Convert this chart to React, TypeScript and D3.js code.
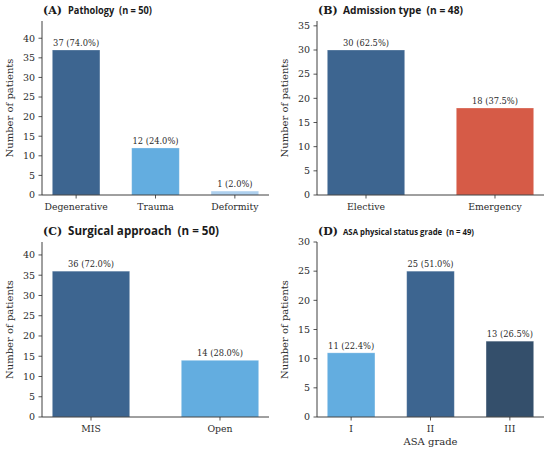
import React from "react";
import * as d3 from "d3";

// Data
const pathologyCats = ["Degenerative", "Trauma", "Deformity"];
const pathologyVals = [37, 12, 1];
const admissionCats = ["Elective", "Emergency"];
const admissionVals = [30, 18];
const approachCats = ["MIS", "Open"];
const approachVals = [36, 14];
const asaCats = ["I", "II", "III"];
const asaVals = [11, 25, 13];

type Panel = {
  tag: string;
  title: string;
  titleSize: number;
  titleWidth: number;
  cats: string[];
  vals: number[];
  colors: string[];
  xlabel?: string;
  box: { x0: number; x1: number; y0: number; y1: number };
};

const panels: Panel[] = [
  {
    tag: "(A)", title: "Pathology  (n = 50)", titleSize: 11, titleWidth: 84,
    cats: pathologyCats, vals: pathologyVals,
    colors: ["#3d6590", "#63ade0", "#aed0ee"],
    box: { x0: 42, x1: 269, y0: 21, y1: 195 },
  },
  {
    tag: "(B)", title: "Admission type  (n = 48)", titleSize: 11, titleWidth: 120,
    cats: admissionCats, vals: admissionVals,
    colors: ["#3d6590", "#d65b47"],
    box: { x0: 317, x1: 544, y0: 21, y1: 195 },
  },
  {
    tag: "(C)", title: "Surgical approach  (n = 50)", titleSize: 13, titleWidth: 151,
    cats: approachCats, vals: approachVals,
    colors: ["#3d6590", "#63ade0"],
    box: { x0: 42, x1: 269, y0: 242, y1: 417 },
  },
  {
    tag: "(D)", title: "ASA physical status grade  (n = 49)", titleSize: 9.5, titleWidth: 131,
    cats: asaCats, vals: asaVals,
    colors: ["#63ade0", "#3d6590", "#344f6b"],
    xlabel: "ASA grade",
    box: { x0: 317, x1: 544, y0: 242, y1: 417 },
  },
];

const serif = "'DejaVu Serif', serif";
const sans = "'Open Sans', 'Noto Sans', sans-serif";
const ink = "#2b2b2b";

function BarPanel({ p }: { p: Panel }) {
  const n = p.cats.length;
  const total = d3.sum(p.vals);
  const barW = 0.6;
  const pad = 0.05 * (n - 1 + barW);
  const x = d3.scaleLinear().domain([-barW / 2 - pad, n - 1 + barW / 2 + pad]).range([p.box.x0, p.box.x1]);
  const y = d3.scaleLinear().domain([0, d3.max(p.vals)! * 1.2]).range([p.box.y1, p.box.y0]);
  const yTicks = d3.range(0, y.domain()[1] + 0.001, 5);
  const midY = (p.box.y0 + p.box.y1) / 2;

  return (
    <g>
      <text x={p.box.x0 + 1} y={p.box.y0 - 7} fontFamily={serif} fontWeight="bold" fontSize={11} fill="#1a1a1a">
        {p.tag}
      </text>
      <text
        x={p.box.x0 + 26}
        y={p.box.y0 - 7}
        fontFamily={sans}
        fontWeight="bold"
        fontSize={p.titleSize}
        fill="#1a1a1a"
        textLength={p.titleWidth}
        lengthAdjust="spacingAndGlyphs"
        style={{ whiteSpace: "pre" }}
      >
        {p.title}
      </text>

      {p.vals.map((v, i) => (
        <g key={i}>
          <rect
            x={x(i - barW / 2)}
            y={y(v)}
            width={x(i + barW / 2) - x(i - barW / 2)}
            height={y(0) - y(v)}
            fill={p.colors[i]}
            stroke="#ffffff"
            strokeOpacity={0.35}
            strokeWidth={0.8}
          />
          <text x={x(i)} y={y(v) - 4} textAnchor="middle" fontFamily={serif} fontSize={8.3} fill={ink}>
            {`${v} (${d3.format(".1f")((v / total) * 100)}%)`}
          </text>
        </g>
      ))}

      {/* y axis */}
      <line x1={p.box.x0} x2={p.box.x0} y1={p.box.y0} y2={p.box.y1} stroke={ink} strokeWidth={0.9} />
      {yTicks.map((t) => (
        <g key={t} transform={`translate(${p.box.x0},${y(t)})`}>
          <line x1={-3.5} x2={0} stroke={ink} strokeWidth={0.8} />
          <text x={-7} dy="0.35em" textAnchor="end" fontFamily={serif} fontSize={9.5} fill={ink}>
            {t}
          </text>
        </g>
      ))}
      <text
        transform={`translate(${p.box.x0 - 29},${midY}) rotate(-90)`}
        textAnchor="middle"
        fontFamily={serif}
        fontSize={10}
        fill={ink}
      >
        Number of patients
      </text>

      {/* x axis */}
      <line x1={p.box.x0} x2={p.box.x1} y1={p.box.y1} y2={p.box.y1} stroke={ink} strokeWidth={0.9} />
      {p.cats.map((c, i) => (
        <g key={c} transform={`translate(${x(i)},${p.box.y1})`}>
          <line y1={0} y2={3.5} stroke={ink} strokeWidth={0.8} />
          <text y={15} textAnchor="middle" fontFamily={serif} fontSize={9.3} fill={ink}>
            {c}
          </text>
        </g>
      ))}
      {p.xlabel && (
        <text x={(p.box.x0 + p.box.x1) / 2} y={p.box.y1 + 28} textAnchor="middle" fontFamily={serif} fontSize={10} fill={ink}>
          {p.xlabel}
        </text>
      )}
    </g>
  );
}

export default function App() {
  return (
    <svg
      width={550}
      height={454}
      viewBox="0 0 550 454"
      style={{ position: "absolute", left: 0, top: 0, background: "#fff" }}
    >
      <rect width={550} height={454} fill="#fff" />
      {panels.map((p) => (
        <BarPanel key={p.tag} p={p} />
      ))}
    </svg>
  );
}
